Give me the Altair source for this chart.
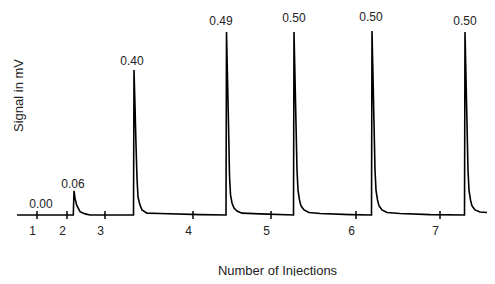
import altair as alt
import pandas as pd

# Trace: time (arbitrary units) and signal (mV)
trace_t = [9, 65.3, 66, 67, 68.7, 72, 77, 82,
           125.5, 126, 127, 128, 129, 130, 132, 134, 139, 152, 192,
           218, 218.5, 219.5, 220.5, 221.5, 222.5, 224, 226, 229, 234, 252,
           285.5, 286, 287, 288, 289, 290, 291.5, 293, 296, 301, 312, 342,
           363.5, 364, 365, 366, 367, 368, 369.5, 371, 374, 379, 392, 422,
           456.5, 457, 458, 459, 460, 461, 462.5, 464, 467, 472, 479]
trace_mv = [0, 0, 0.066, 0.046, 0.027, 0.009, 0.003, 0,
            0, 0.396, 0.298, 0.191, 0.101, 0.049, 0.027, 0.014, 0.005, 0.004, 0.001,
            0, 0.5, 0.374, 0.249, 0.107, 0.055, 0.033, 0.019, 0.011, 0.005, 0.003,
            0, 0.5, 0.374, 0.249, 0.123, 0.068, 0.041, 0.025, 0.014, 0.007, 0.004, 0.001,
            0, 0.503, 0.377, 0.251, 0.123, 0.068, 0.041, 0.025, 0.014, 0.007, 0.004, 0.001,
            0, 0.5, 0.374, 0.249, 0.123, 0.068, 0.041, 0.025, 0.014, 0.008, 0.007]

# Injection markers
inj_t = [29, 59, 97, 185, 263, 348, 432]
inj_labels = ["1", "2", "3", "4", "5", "6", "7"]

# Peak value annotations
ann_text = ["0.00", "0.06", "0.40", "0.49", "0.50", "0.50", "0.50"]
ann_t = [33, 65, 124, 213, 286, 363, 457]
ann_mv = [0.018, 0.075, 0.411, 0.52, 0.526, 0.529, 0.52]

FONT = "Liberation Sans"

trace = pd.DataFrame({"t": trace_t, "mv": trace_mv})
ticks = pd.DataFrame({"t": inj_t, "lo": [-0.011] * len(inj_t), "hi": [0.011] * len(inj_t)})
ann = pd.DataFrame({"t": ann_t, "mv": ann_mv, "txt": ann_text})

xscale = alt.Scale(domain=[0, 479], nice=False, zero=False)
yscale = alt.Scale(domain=[0, 0.5656], nice=False)

label_expr = "{}[indexof({}, datum.value)]".format(
    "[" + ",".join("'" + s + "'" for s in inj_labels) + "]",
    "[" + ",".join(str(v) for v in inj_t) + "]",
)

xaxis = alt.Axis(values=inj_t, labelExpr=label_expr, domain=False, ticks=False, grid=False,
                 labelPadding=10, labelOffset=-5, labelFontSize=12, labelFont=FONT,
                 labelColor="#222", title="Number of Injections", titleFont=FONT,
                 titleFontSize=13, titleFontWeight="normal", titleColor="#222",
                 titleX=269, titleY=59, titleBaseline="alphabetic")
yaxis = alt.Axis(labels=False, ticks=False, domain=False, grid=False,
                 title="Signal in mV", titleFont=FONT, titleFontSize=13,
                 titleFontWeight="normal", titleColor="#222",
                 titleX=10, titleY=87, titleAngle=270, titleBaseline="middle")

line = alt.Chart(trace).mark_line(color="black", strokeWidth=1.6).encode(
    x=alt.X("t:Q", scale=xscale, axis=xaxis),
    y=alt.Y("mv:Q", scale=yscale, axis=yaxis),
)

tick_marks = alt.Chart(ticks).mark_rule(color="black", strokeWidth=1.5).encode(
    x=alt.X("t:Q", scale=xscale),
    y=alt.Y("lo:Q", scale=yscale),
    y2="hi:Q",
)

labels = alt.Chart(ann).mark_text(font=FONT, fontSize=12, color="#222",
                                  align="center", baseline="alphabetic").encode(
    x=alt.X("t:Q", scale=xscale),
    y=alt.Y("mv:Q", scale=yscale),
    text="txt:N",
)

chart = alt.layer(line, tick_marks, labels).properties(
    width=479, height=207,
    autosize=alt.AutoSizeParams(type="none"),
    padding={"left": 0, "top": 0, "right": 0, "bottom": 61},
).configure_view(stroke=None)

chart.save("out.html", embed_options={"renderer": "svg", "actions": False})
